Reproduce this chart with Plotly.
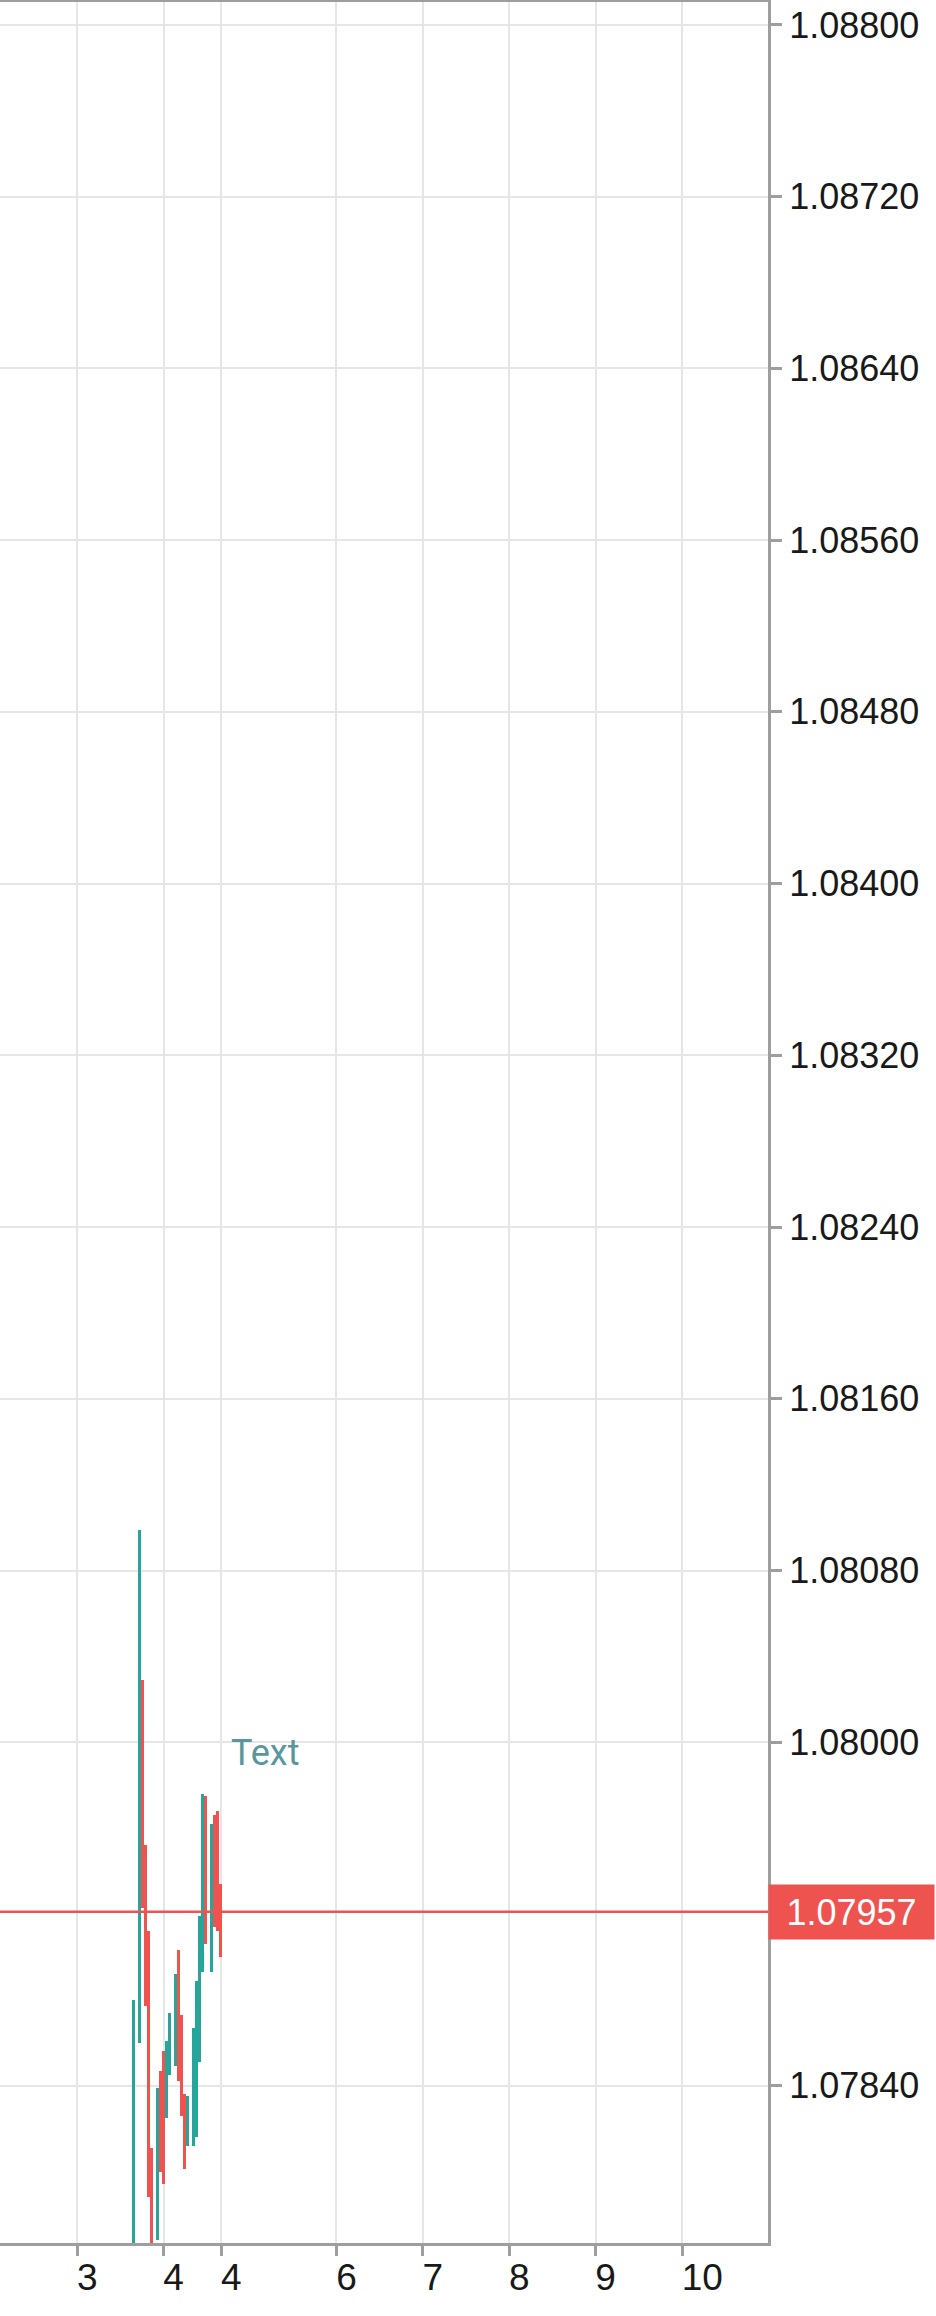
import plotly.graph_objects as go

# ---- data -------------------------------------------------------------
# candle times (fractional day of month)
times = [3.6516, 3.7211, 3.7558, 3.7905, 3.8252, 3.8600, 3.9294, 3.9641,
         3.9988, 4.0336, 4.0683, 4.1377, 4.1725, 4.2072, 4.2419, 4.2766,
         4.3461, 4.3808, 4.4155, 4.4502, 4.4850, 4.5544, 4.5891, 4.6238,
         4.6586]
opens = [1.07770, 1.07862, 1.08010, 1.07940, 1.07890, 1.07800, 1.07772, 1.07830,
         1.07840, 1.07830, 1.07850, 1.07855, 1.07885, 1.07860, 1.07830, 1.07815,
         1.07820, 1.07830, 1.07860, 1.07900, 1.07965, 1.07900, 1.07955, 1.07960,
         1.07930]
highs = [1.07880, 1.08099, 1.08029, 1.07952, 1.07912, 1.07811, 1.07839, 1.07847,
         1.07856, 1.07861, 1.07874, 1.07892, 1.07903, 1.07873, 1.07836, 1.07835,
         1.07867, 1.07889, 1.07919, 1.07976, 1.07975, 1.07962, 1.07966, 1.07968,
         1.07934]
lows = [1.07740, 1.07860, 1.07923, 1.07877, 1.07788, 1.07745, 1.07768, 1.07800,
        1.07794, 1.07825, 1.07845, 1.07849, 1.07842, 1.07826, 1.07801, 1.07812,
        1.07812, 1.07816, 1.07851, 1.07893, 1.07906, 1.07893, 1.07914, 1.07912,
        1.07900]
closes = [1.07862, 1.08010, 1.07940, 1.07890, 1.07800, 1.07770, 1.07830, 1.07805,
          1.07800, 1.07855, 1.07870, 1.07885, 1.07850, 1.07830, 1.07810, 1.07830,
          1.07860, 1.07880, 1.07910, 1.07965, 1.07915, 1.07950, 1.07920, 1.07925,
          1.07921]

x_tick_vals = [3, 4, 4.667, 6, 7, 8, 9, 10]
x_tick_text = ["3", "4", "4", "6", "7", "8", "9", "10"]
y_tick_vals = [1.0784, 1.0800, 1.0808, 1.0816, 1.0824, 1.0832, 1.0840,
               1.0848, 1.0856, 1.0864, 1.0872, 1.0880]
y_tick_text = ["1.07840", "1.08000", "1.08080", "1.08160", "1.08240", "1.08320",
               "1.08400", "1.08480", "1.08560", "1.08640", "1.08720", "1.08800"]

price_label = "1.07957"
note_text = "Text"
note_time = 4.755
note_price = 1.07995

x_range = [2.10648, 10.99537]
y_range = [1.0776671, 1.0881071]

candle_width = 0.034722  # one candle slot in days

UP = "#26a69a"
DOWN = "#ef5350"
AXIS = "#9e9e9e"
GRID = "#e6e6e6"
FONT = "Liberation Sans"
TEXT = "#191919"

# ---- figure -----------------------------------------------------------
up_idx = [i for i in range(len(times)) if closes[i] >= opens[i]]
dn_idx = [i for i in range(len(times)) if closes[i] < opens[i]]

fig = go.Figure()
for idx, col in ((up_idx, UP), (dn_idx, DOWN)):
    fig.add_trace(go.Bar(
        x=[times[i] for i in idx],
        y=[highs[i] - lows[i] for i in idx],
        base=[lows[i] for i in idx],
        width=candle_width,
        marker=dict(color=col, line=dict(width=0)),
        hoverinfo="skip",
        showlegend=False,
    ))

last_close = closes[-1]
fig.add_shape(type="line", xref="paper", x0=0, x1=1, yref="y",
              y0=last_close, y1=last_close,
              line=dict(color=DOWN, width=2.5), layer="above")

fig.add_annotation(xref="paper", x=1, xanchor="left", yref="y", y=last_close,
                   yanchor="middle", text=price_label, showarrow=False,
                   bgcolor=DOWN, width=165, height=54, borderpad=0,
                   font=dict(family=FONT, size=36, color="white"))

fig.add_annotation(xref="x", x=note_time, xanchor="left", yref="y", y=note_price,
                   yanchor="middle", text=note_text, showarrow=False,
                   font=dict(family="Roboto", size=36, color="#5a979d"))

fig.update_layout(
    width=936, height=2316,
    margin=dict(l=0, r=168, t=2, b=73),
    paper_bgcolor="white", plot_bgcolor="white",
    barmode="overlay", bargap=0,
    showlegend=False,
    font=dict(family=FONT, size=36, color=TEXT),
)
fig.update_xaxes(
    range=x_range, tickvals=x_tick_vals, ticktext=x_tick_text,
    showgrid=True, gridcolor=GRID, gridwidth=2, zeroline=False,
    showline=True, linecolor=AXIS, linewidth=3, mirror=True,
    ticks="outside", ticklen=10, tickwidth=2.5, tickcolor=AXIS,
    ticklabelposition="outside right", ticklabelshift=-3,
    tickfont=dict(family=FONT, size=37, color=TEXT),
)
fig.update_yaxes(
    side="right", range=y_range, tickvals=y_tick_vals, ticktext=y_tick_text,
    showgrid=True, gridcolor=GRID, gridwidth=2, zeroline=False,
    showline=True, linecolor=AXIS, linewidth=3,
    ticks="outside", ticklen=11, tickwidth=2.5, tickcolor=AXIS,
    tickfont=dict(family=FONT, size=36, color=TEXT),
)

fig.write_html("out.html",
               config={"displayModeBar": False},
               post_script="document.body.style.margin='0';"
                           "document.body.style.overflow='hidden';")
